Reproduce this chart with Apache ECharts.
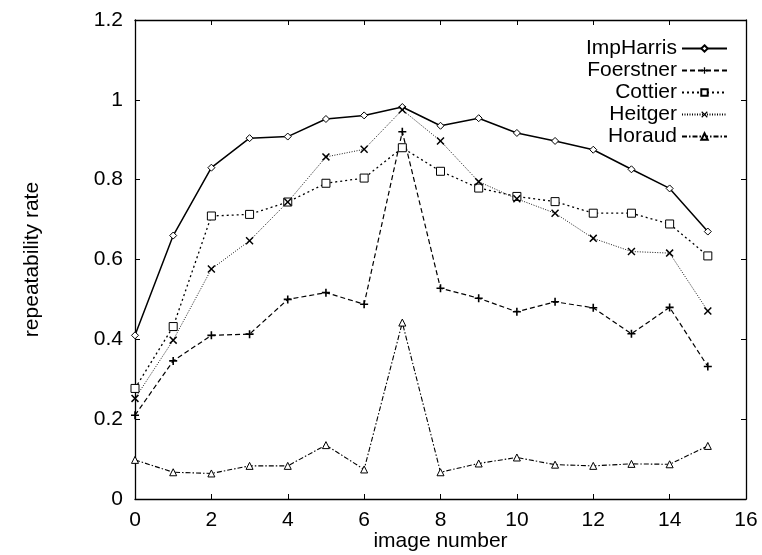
<!DOCTYPE html>
<html>
<head>
<meta charset="utf-8">
<title>Repeatability rate per image</title>
<script src="https://cdn.jsdelivr.net/npm/echarts@6/dist/echarts.min.js"></script>
<style>
  html, body { margin: 0; padding: 0; background: #fff; }
  #chart { width: 762px; height: 555px; }
</style>
</head>
<body>
<div id="chart"></div>
<script>
// Image index along the sequence
var imageNumbers = [0, 1, 2, 3, 4, 5, 6, 7, 8, 9, 10, 11, 12, 13, 14, 15];

// Repeatability rate per detector
var impHarris = [0.41, 0.66, 0.83, 0.904, 0.908, 0.952, 0.961, 0.982, 0.935, 0.954, 0.917, 0.897, 0.875, 0.826, 0.778, 0.67];
var foerstner = [0.21, 0.346, 0.41, 0.413, 0.50, 0.517, 0.488, 0.92, 0.528, 0.503, 0.469, 0.494, 0.479, 0.414, 0.48, 0.332];
var cottier   = [0.277, 0.432, 0.709, 0.713, 0.744, 0.791, 0.804, 0.88, 0.821, 0.779, 0.758, 0.745, 0.716, 0.716, 0.689, 0.609];
var heitger   = [0.252, 0.398, 0.576, 0.647, 0.744, 0.857, 0.876, 0.975, 0.897, 0.795, 0.752, 0.716, 0.653, 0.62, 0.616, 0.471];
var horaud    = [0.098, 0.067, 0.064, 0.083, 0.083, 0.135, 0.074, 0.442, 0.067, 0.089, 0.104, 0.086, 0.083, 0.088, 0.087, 0.133];

var seriesNames = ['ImpHarris', 'Foerstner', 'Cottier', 'Heitger', 'Horaud'];

// Axis tick labels
var xTickLabels = ['0', '2', '4', '6', '8', '10', '12', '14', '16'];
var yTickLabels = ['0', '0.2', '0.4', '0.6', '0.8', '1', '1.2'];

var FONT = "'Liberation Sans', Arial, Helvetica, sans-serif";
var INK = '#000';

var plusPath = 'path://M4,0H6V4H10V6H6V10H4V6H0V4H4Z';
var crossPath = 'path://M0,1.3L1.3,0L5,3.7L8.7,0L10,1.3L6.3,5L10,8.7L8.7,10L5,6.3L1.3,10L0,8.7L3.7,5Z';

function pairs(values) {
  return imageNumbers.map(function (x, i) { return [x, values[i]]; });
}

function lineSeries(name, values, symbol, size, openMarker, dash, width) {
  return {
    name: name,
    type: 'line',
    data: pairs(values),
    symbol: symbol,
    symbolSize: size,
    showSymbol: true,
    animation: false,
    lineStyle: { color: INK, width: width, type: dash },
    itemStyle: openMarker
      ? { color: '#fff', borderColor: INK, borderWidth: 1 }
      : { color: INK, borderWidth: 0 },
    emphasis: { disabled: true },
    z: 3
  };
}

function tickFormatter(labels, step) {
  return function (v) {
    var idx = Math.round(v / step);
    return labels[idx] !== undefined ? labels[idx] : '';
  };
}

var baseAxis = {
  axisLine: { show: true, onZero: false, lineStyle: { color: INK, width: 1.3 } },
  axisTick: { show: true, inside: true, length: 5, lineStyle: { color: INK, width: 1 } },
  splitLine: { show: false }
};

var chart = echarts.init(document.getElementById('chart'), null, { renderer: 'canvas' });

chart.setOption({
  backgroundColor: '#fff',
  animation: false,
  grid: {
    left: 135, top: 20, right: 16, bottom: 56,
    containLabel: false, outerBoundsMode: 'none'
  },
  legend: {
    data: seriesNames,
    orient: 'vertical',
    align: 'right',
    right: 34,
    top: 38,
    padding: 0,
    itemWidth: 45,
    itemHeight: 8,
    itemGap: 1,
    selectedMode: false,
    textStyle: { fontFamily: FONT, fontSize: 21, color: INK, lineHeight: 20 }
  },
  xAxis: [
    Object.assign({}, baseAxis, {
      type: 'value', position: 'bottom', min: 0, max: 16, interval: 2,
      axisLabel: {
        color: INK, fontFamily: FONT, fontSize: 21, margin: 11,
        formatter: tickFormatter(xTickLabels, 2)
      },
      name: 'image number', nameLocation: 'middle', nameGap: 32,
      nameMoveOverlap: false,
      nameTextStyle: { color: INK, fontFamily: FONT, fontSize: 21 }
    }),
    Object.assign({}, baseAxis, {
      type: 'value', position: 'top', min: 0, max: 16, interval: 2,
      axisLabel: { show: false }
    })
  ],
  yAxis: [
    Object.assign({}, baseAxis, {
      type: 'value', position: 'left', min: 0, max: 1.2, interval: 0.2,
      axisLabel: {
        color: INK, fontFamily: FONT, fontSize: 21, margin: 12,
        formatter: tickFormatter(yTickLabels, 0.2)
      },
      name: 'repeatability rate', nameLocation: 'middle', nameGap: 92,
      nameMoveOverlap: false,
      nameTextStyle: { color: INK, fontFamily: FONT, fontSize: 21 }
    }),
    Object.assign({}, baseAxis, {
      type: 'value', position: 'right', min: 0, max: 1.2, interval: 0.2,
      axisLabel: { show: false }
    })
  ],
  series: [
    lineSeries('ImpHarris', impHarris, 'diamond', 7, true, 'solid', 1.5),
    lineSeries('Foerstner', foerstner, plusPath, 8, false, [5, 3], 1.2),
    lineSeries('Cottier', cottier, 'rect', 8, true, [2, 3], 1.3),
    lineSeries('Heitger', heitger, crossPath, 8, false, [1, 1.5], 0.9),
    lineSeries('Horaud', horaud, 'triangle', 7, true, [5, 2, 1.5, 2], 1.1)
  ]
});
</script>
</body>
</html>
